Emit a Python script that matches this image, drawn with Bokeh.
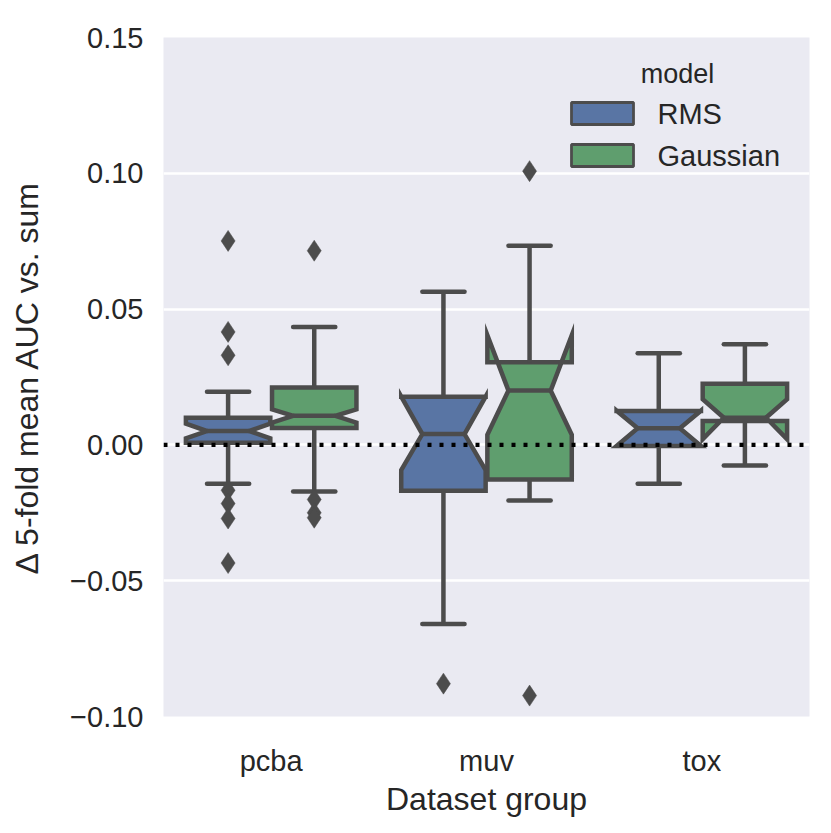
from bokeh.plotting import figure
from bokeh.models import (FactorRange, Range1d, FixedTicker, CustomJSTickFormatter,
                          Span, BoxAnnotation, Label)
from bokeh.embed import file_html
from bokeh.resources import INLINE

# ---------------- data ----------------
groups = ["pcba", "muv", "tox"]
models = ["RMS", "Gaussian"]
y_ticks = [-0.10, -0.05, 0.0, 0.05, 0.10, 0.15]

rms_q1 = [0.0008, -0.0169, -0.0004]
rms_med = [0.0051, 0.0040, 0.0061]
rms_q3 = [0.0100, 0.0177, 0.0125]
rms_notch_lo = [0.0024, -0.0093, -0.0004]
rms_notch_hi = [0.0078, 0.0178, 0.0126]
rms_whisk_lo = [-0.0143, -0.0659, -0.0143]
rms_whisk_hi = [0.0196, 0.0564, 0.0337]
rms_outliers = [[0.0751, 0.0416, 0.0330, -0.0167, -0.0216, -0.0271, -0.0435],
                [-0.0879],
                []]

gau_q1 = [0.0062, -0.0127, 0.0088]
gau_med = [0.0107, 0.0200, 0.0100]
gau_q3 = [0.0211, 0.0304, 0.0225]
gau_notch_lo = [0.0082, 0.0037, 0.0021]
gau_notch_hi = [0.0131, 0.0404, 0.0168]
gau_whisk_lo = [-0.0172, -0.0205, -0.0076]
gau_whisk_hi = [0.0434, 0.0733, 0.0371]
gau_outliers = [[0.0715, -0.0201, -0.0250, -0.0268],
                [0.1008, -0.0923],
                []]

# ---------------- style ----------------
BG = "#EAEAF2"
GRAY = "#4C4C4C"
TEXT = "#262626"
COLORS = ["#5975A4", "#5F9E6E"]
FONT = "Liberation Sans"
LW = 4.5

BOX_W = 0.8 / 2 * 0.98       # seaborn nested width
DODGE = [-0.2, 0.2]

p = figure(width=823, height=823,
           x_range=FactorRange(*groups, range_padding=0, factor_padding=0),
           y_range=Range1d(-0.10, 0.15),
           output_backend="svg", toolbar_location=None,
           min_border_left=163, min_border_right=14,
           min_border_top=37, min_border_bottom=107)

p.background_fill_color = BG
p.border_fill_color = "white"
p.outline_line_color = None
p.xgrid.grid_line_color = None
p.ygrid.grid_line_color = "white"
p.ygrid.grid_line_width = 2.7
p.ygrid.ticker = FixedTicker(ticks=y_ticks)

p.yaxis.ticker = FixedTicker(ticks=y_ticks)
p.yaxis.formatter = CustomJSTickFormatter(
    code="return (tick < 0 ? '\\u2212' : '') + Math.abs(tick).toFixed(2);")

for ax in (p.xaxis[0], p.yaxis[0]):
    ax.axis_line_color = None
    ax.major_tick_line_color = None
    ax.minor_tick_line_color = None
    ax.major_tick_out = 0
    ax.major_tick_in = 0
    ax.minor_tick_out = 0
    ax.major_label_text_font = FONT
    ax.major_label_text_font_size = "29px"
    ax.major_label_text_color = TEXT
    ax.axis_label_text_font = FONT
    ax.axis_label_text_font_size = "32px"
    ax.axis_label_text_font_style = "normal"
    ax.axis_label_text_color = TEXT

p.xaxis.major_label_standoff = 28
p.yaxis.major_label_standoff = 20
p.xaxis.axis_label = "Dataset group"
p.xaxis.axis_label_standoff = 1
p.yaxis.axis_label = "\u0394 5-fold mean AUC vs. sum"
p.yaxis.axis_label_standoff = 22

stats = [
    (rms_q1, rms_med, rms_q3, rms_notch_lo, rms_notch_hi, rms_whisk_lo, rms_whisk_hi, rms_outliers),
    (gau_q1, gau_med, gau_q3, gau_notch_lo, gau_notch_hi, gau_whisk_lo, gau_whisk_hi, gau_outliers),
]

for m, (q1, med, q3, nlo, nhi, wlo, whi, outl) in enumerate(stats):
    xs, ys = [], []
    wx0, wy0, wy1 = [], [], []
    cx0, cx1, cy = [], [], []
    mx0, mx1, my = [], [], []
    ox, oy = [], []
    for i in range(len(groups)):
        c = i + 0.5 + DODGE[m]
        l, r = c - BOX_W / 2, c + BOX_W / 2
        ins = BOX_W / 4
        xs.append([l, l, l + ins, l, l, r, r, r - ins, r, r])
        ys.append([q1[i], nlo[i], med[i], nhi[i], q3[i], q3[i], nhi[i], med[i], nlo[i], q1[i]])
        wx0 += [c, c]
        wy0 += [q3[i], q1[i]]
        wy1 += [whi[i], wlo[i]]
        cx0 += [c - ins, c - ins]
        cx1 += [c + ins, c + ins]
        cy += [whi[i], wlo[i]]
        mx0.append(l + ins)
        mx1.append(r - ins)
        my.append(med[i])
        for v in outl[i]:
            ox.append(c)
            oy.append(v)
    p.patches(xs, ys, fill_color=COLORS[m], line_color=GRAY, line_width=LW, line_join="miter")
    p.segment(x0=wx0, y0=wy0, x1=wx0, y1=wy1, line_color=GRAY, line_width=LW, line_cap="butt")
    p.segment(x0=cx0, y0=cy, x1=cx1, y1=cy, line_color=GRAY, line_width=LW, line_cap="round")
    p.segment(x0=mx0, y0=my, x1=mx1, y1=my, line_color=GRAY, line_width=LW, line_cap="butt")
    p.scatter(ox, oy, marker="diamond", size=21, fill_color=GRAY, line_color=GRAY, line_width=0.5)

p.add_layout(Span(location=0, dimension="width", line_color="black",
                  line_width=4.4, line_dash="4 8"))

# ---------------- legend ----------------
leg_tops = [614, 572]
for k, name in enumerate(models):
    p.add_layout(BoxAnnotation(left=408, right=470, top=leg_tops[k], bottom=leg_tops[k] - 22,
                               left_units="screen", right_units="screen",
                               top_units="screen", bottom_units="screen",
                               fill_color=COLORS[k], fill_alpha=1.0,
                               line_color=GRAY, line_width=2.8, line_alpha=1.0))
    p.add_layout(Label(x=494, y=leg_tops[k] - 11, x_units="screen", y_units="screen",
                       text=name, text_font=FONT, text_font_size="29px",
                       text_color=TEXT, text_baseline="middle", text_align="left"))
p.add_layout(Label(x=514, y=643, x_units="screen", y_units="screen",
                   text="model", text_font=FONT, text_font_size="27px",
                   text_color=TEXT, text_baseline="middle", text_align="center"))

open("out.html", "w", encoding="utf-8").write(file_html(p, INLINE))
